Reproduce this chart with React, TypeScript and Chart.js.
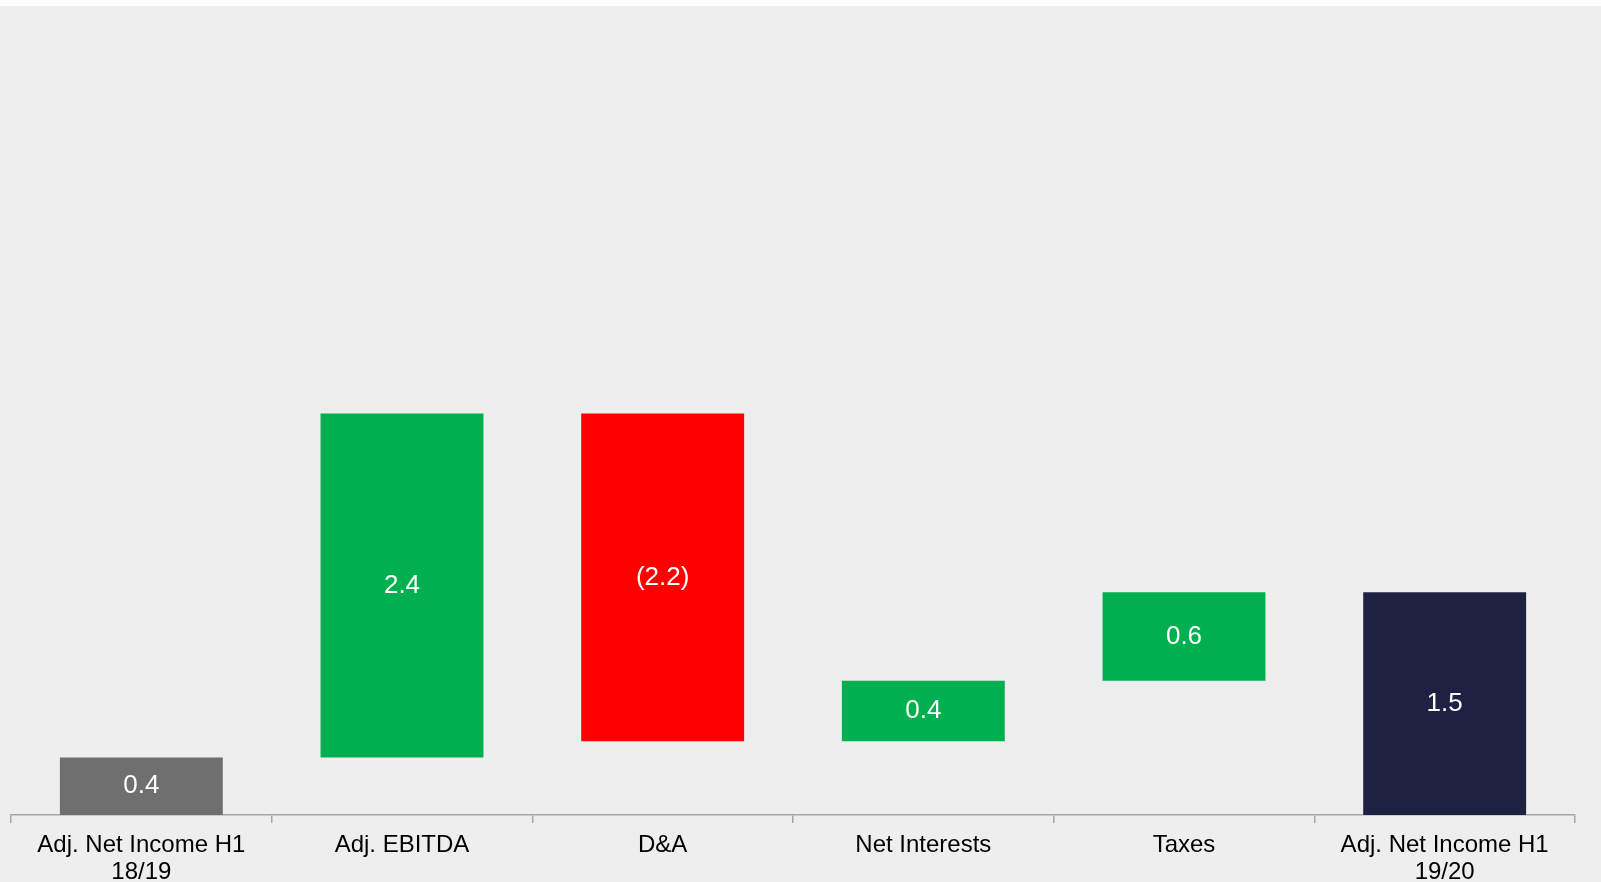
import React, { useEffect, useRef } from "react";
import { Chart, registerables } from "chart.js";

Chart.register(...registerables);

const categories: (string | string[])[] = [
  ["Adj. Net Income H1", "18/19"],
  "Adj. EBITDA",
  "D&A",
  "Net Interests",
  "Taxes",
  ["Adj. Net Income H1", "19/20"],
];
const startValue = 0.39;
const bridgeSteps = [2.33, -2.22, 0.41, 0.6];
const valueLabels = ["0.4", "2.4", "(2.2)", "0.4", "0.6", "1.5"];
const barColors = ["#6f6f6f", "#00b050", "#ff0000", "#00b050", "#00b050", "#1d2142"];

const FONT = "'Liberation Sans', Arial, sans-serif";

function buildRanges(): [number, number][] {
  const out: [number, number][] = [[0, startValue]];
  let cum = startValue;
  for (const s of bridgeSteps) {
    out.push([cum, cum + s]);
    cum += s;
  }
  out.push([0, cum]);
  return out;
}

const labelPlugin = {
  id: "barLabels",
  afterDatasetsDraw(chart: any) {
    const ctx = chart.ctx;
    const meta = chart.getDatasetMeta(0);
    ctx.save();
    ctx.fillStyle = "#ffffff";
    ctx.font = `26px ${FONT}`;
    ctx.textAlign = "center";
    ctx.textBaseline = "middle";
    meta.data.forEach((bar: any, i: number) => {
      const p = bar.getProps(["x", "y", "base"], true);
      ctx.fillText(valueLabels[i], p.x, (p.y + p.base) / 2);
    });
    ctx.restore();
  },
};

export default function App() {
  const ref = useRef<HTMLCanvasElement | null>(null);
  useEffect(() => {
    if (!ref.current) return;
    const chart = new Chart(ref.current, {
      type: "bar",
      data: {
        labels: categories as any,
        datasets: [
          {
            data: buildRanges() as any,
            backgroundColor: barColors,
            borderWidth: 0,
            barPercentage: 0.625,
            categoryPercentage: 1,
          },
        ],
      },
      options: {
        animation: false,
        responsive: true,
        maintainAspectRatio: false,
        layout: { padding: { left: 11, right: 26, top: 12, bottom: 0 } },
        plugins: {
          legend: { display: false },
          tooltip: { enabled: false },
          title: { display: false },
        },
        scales: {
          x: {
            offset: true,
            grid: {
              offset: true,
              drawOnChartArea: false,
              drawTicks: true,
              tickLength: 8,
              color: "#a6a6a6",
              lineWidth: 1.5,
            },
            border: { display: true, color: "#a6a6a6", width: 1.5 },
            ticks: {
              color: "#000000",
              font: { family: FONT, size: 24, lineHeight: 1.125 },
              padding: 9,
              maxRotation: 0,
              autoSkip: false,
            },
            afterFit: (scale: any) => {
              scale.height = 67;
            },
          },
          y: {
            display: false,
            min: 0,
            max: 5.4,
          },
        },
      },
      plugins: [labelPlugin],
    });
    return () => chart.destroy();
  }, []);
  return (
    <div
      style={{
        position: "fixed",
        left: 0,
        top: 6,
        width: 1601,
        height: 876,
        background: "#eeeeee",
      }}
    >
      <canvas ref={ref} />
    </div>
  );
}
